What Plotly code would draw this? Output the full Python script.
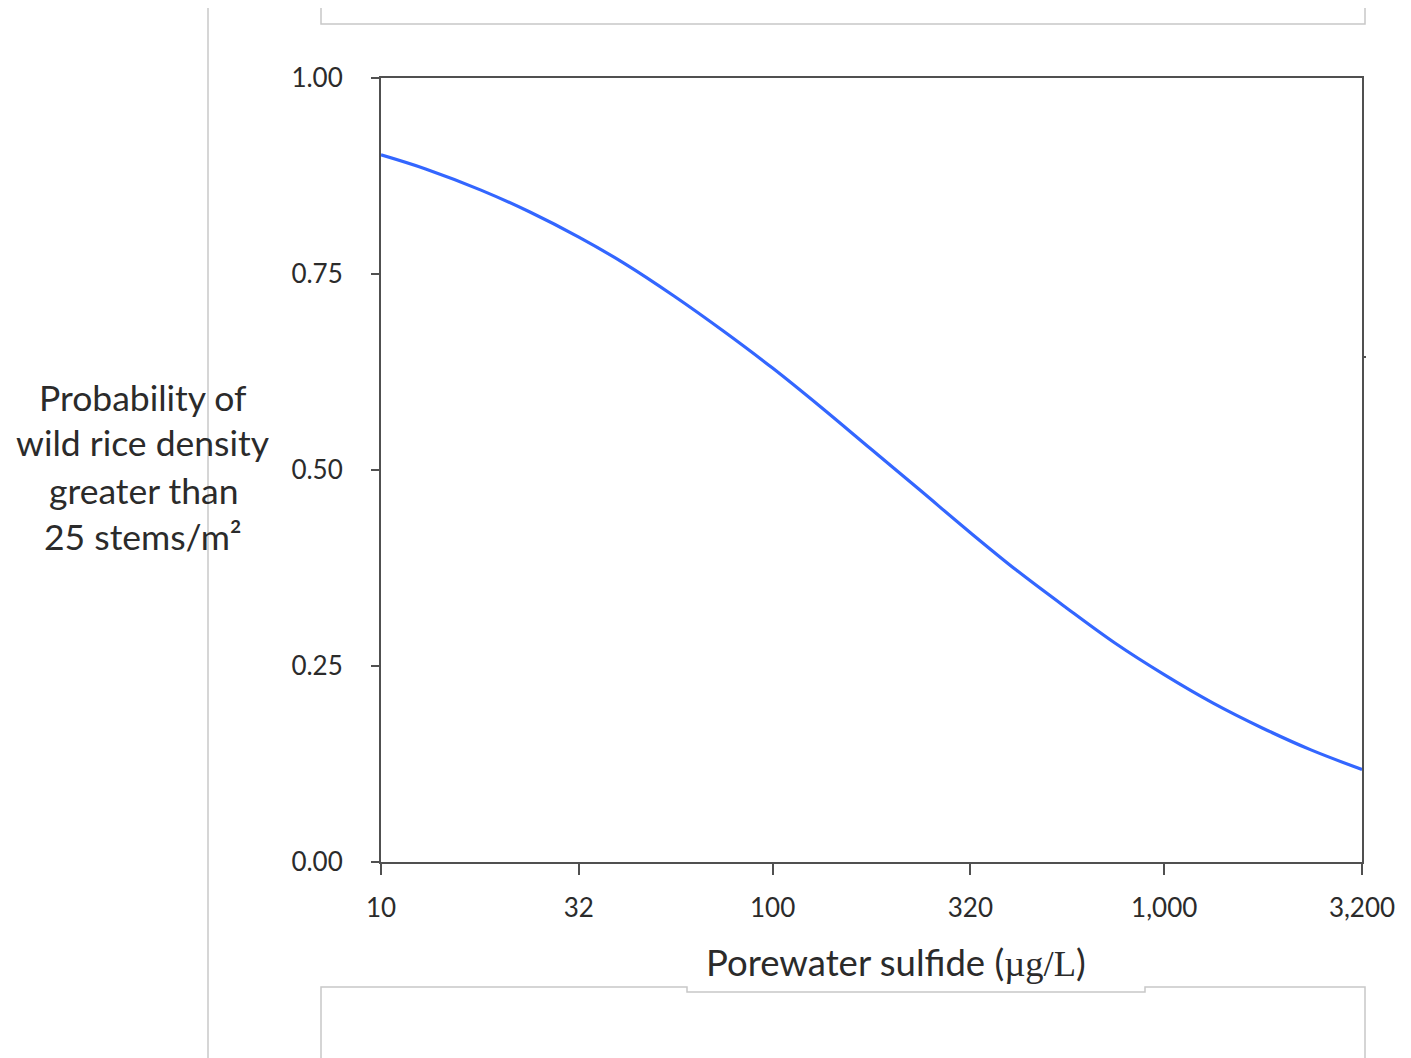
import plotly.graph_objects as go

# ---- data ----
sulfide_ugL = [10, 13, 18, 24, 32, 42, 56, 75, 100, 133, 178, 237, 320, 420, 560, 750, 1000, 1330, 1780, 2370, 3200]
probability = [0.902, 0.884, 0.857, 0.829, 0.797, 0.763, 0.722, 0.677, 0.630, 0.580, 0.527, 0.475,
               0.420, 0.372, 0.325, 0.279, 0.239, 0.203, 0.171, 0.143, 0.118]

x_tickvals = [10, 32, 100, 320, 1000, 3200]
x_ticktext = ["10", "32", "100", "320", "1,000", "3,200"]
y_tickvals = [0, 0.25, 0.5, 0.75, 1.0]
y_ticktext = ["0.00", "0.25", "0.50", "0.75", "1.00"]

y_title_lines = ["Probability of", "wild rice density", "greater than", "25 stems/m²"]
x_title = "Porewater sulfide (<span style='font-family:Liberation Serif'>µg/L</span>)"

# page offset (browser body margin)
OFF = 8
PAGE_W, PAGE_H = 1411, 1058
W, H = PAGE_W - OFF, PAGE_H - OFF
# plot area in page pixels
L, R, T, B = 381, 1362, 78, 862


def px(xp):
    return (xp - L) / (R - L)


def py(yp):
    return (B - yp) / (B - T)


FONT = "Lato, 'Open Sans', sans-serif"
AX = "#505050"
TXT = "#2b2b2b"

fig = go.Figure()
fig.add_trace(go.Scatter(
    x=sulfide_ugL, y=probability, mode="lines",
    line=dict(color="#3366FF", width=3.2, shape="spline"),
    showlegend=False, hoverinfo="skip",
))

fig.update_xaxes(
    type="log", range=[1, 3.50515], tickvals=x_tickvals, ticktext=x_ticktext,
    showline=True, mirror=True, linecolor=AX, linewidth=2,
    ticks="outside", ticklen=11, tickcolor=AX, tickwidth=2,
    showgrid=False, zeroline=False, ticklabelstandoff=11,
    tickfont=dict(family=FONT, size=26, color=TXT),
)
fig.update_yaxes(
    range=[0, 1], tickvals=y_tickvals, ticktext=y_ticktext,
    showline=True, mirror=True, linecolor=AX, linewidth=2,
    ticks="outside", ticklen=8, tickcolor=AX, tickwidth=2,
    showgrid=False, zeroline=False, ticklabelstandoff=23,
    tickfont=dict(family=FONT, size=26, color=TXT),
)

annotations = []
line_centers = [397, 443, 490, 536]
for txt, yc in zip(y_title_lines, line_centers):
    annotations.append(dict(
        text=txt, x=px(143), y=py(yc), xref="paper", yref="paper",
        xanchor="center", yanchor="middle", showarrow=False,
        font=dict(family=FONT, size=35.5, color=TXT),
    ))
annotations.append(dict(
    text=x_title, x=px(896), y=py(962), xref="paper", yref="paper",
    xanchor="center", yanchor="middle", showarrow=False,
    font=dict(family=FONT, size=36.5, color=TXT),
))

GRAY = "#c8c8c8"


def path(points):
    return "M " + " L ".join(f"{px(a):.5f},{py(b):.5f}" for a, b in points)


shapes = [
    dict(type="line", xref="paper", yref="paper", x0=px(208), x1=px(208), y0=py(7), y1=py(1060),
         line=dict(color=GRAY, width=1.5)),
    dict(type="path", xref="paper", yref="paper",
         path=path([(321, 7), (321, 24), (1365, 24), (1365, 7)]),
         line=dict(color=GRAY, width=1.5)),
    dict(type="path", xref="paper", yref="paper",
         path=path([(321, 1060), (321, 987), (687, 987), (687, 992), (1145, 992),
                    (1145, 987), (1365, 987), (1365, 1060)]),
         line=dict(color=GRAY, width=1.5)),
    dict(type="line", xref="paper", yref="paper", x0=px(1362), x1=px(1366), y0=py(357), y1=py(357),
         line=dict(color=AX, width=2)),
]

fig.update_layout(
    width=W, height=H, autosize=False,
    margin=dict(l=L - OFF, r=PAGE_W - R, t=T - OFF, b=PAGE_H - B, pad=0),
    paper_bgcolor="white", plot_bgcolor="white",
    annotations=annotations, shapes=shapes,
)

fig.write_html("out.html")
